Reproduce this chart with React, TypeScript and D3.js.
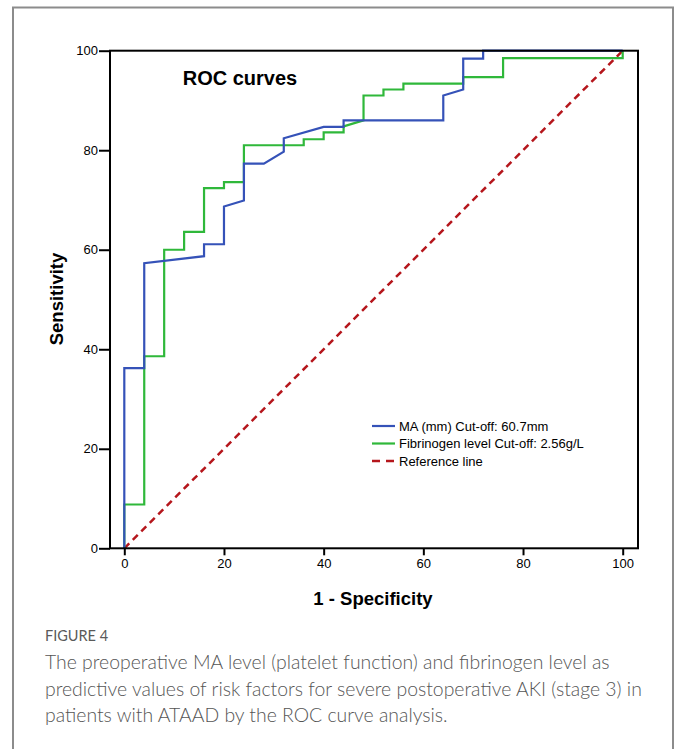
import React, { useEffect, useRef } from 'react';
import * as d3 from 'd3';

// ROC points (1 - specificity, sensitivity), both in %
const maFpr = [0, 0, 4, 4, 16, 16, 20, 20, 24, 24, 28, 32, 32, 40, 44, 44, 64, 64, 68, 68, 72, 72, 100];
const maTpr = [0, 36.2, 36.2, 57.3, 58.7, 61.1, 61.1, 68.7, 69.9, 77.3, 77.3, 79.7, 82.4, 84.7, 84.7, 86, 86, 91, 92.2, 98.4, 98.4, 100, 100];

const fibFpr = [0, 0, 4, 4, 8, 8, 12, 12, 16, 16, 20, 20, 24, 24, 36, 36, 40, 40, 44, 44, 48, 48, 52, 52, 56, 56, 68, 68, 76, 76, 100, 100];
const fibTpr = [0, 8.8, 8.8, 38.6, 38.6, 60, 60, 63.6, 63.6, 72.4, 72.4, 73.6, 73.6, 81, 81, 82.2, 82.2, 83.6, 83.6, 84.8, 86, 91, 91, 92.2, 92.2, 93.4, 93.4, 94.7, 94.7, 98.5, 98.5, 100];

const refFpr = [0, 100];
const refTpr = [0, 100];

const xTicks = [0, 20, 40, 60, 80, 100];
const yTicks = [0, 20, 40, 60, 80, 100];

const seriesNames = ['MA (mm) Cut-off: 60.7mm', 'Fibrinogen level Cut-off: 2.56g/L', 'Reference line'];

const captionTitle = 'FIGURE 4';
const captionLines = [
  'The preoperative MA level (platelet function) and fibrinogen level as',
  'predictive values of risk factors for severe postoperative AKI (stage 3) in',
  'patients with ATAAD by the ROC curve analysis.',
];

const BLUE = '#3552b8';
const GREEN = '#2fb83a';
const RED = '#b5161c';

export default function App() {
  const ref = useRef<SVGSVGElement>(null);

  useEffect(() => {
    if (!ref.current) return;
    const svg = d3.select(ref.current);
    svg.selectAll('*').remove();

    const W = 677;
    const H = 749;
    svg.attr('width', W).attr('height', H);

    // outer figure box
    svg.append('rect')
      .attr('x', 13).attr('y', 7.5)
      .attr('width', 660).attr('height', 800)
      .attr('fill', 'none')
      .attr('stroke', '#8c8c8c')
      .attr('stroke-width', 2);

    const frame = { left: 110, right: 638, top: 50.7, bottom: 548.3 };

    const x = d3.scaleLinear().domain([0, 100]).range([124.3, 622.7]);
    const y = d3.scaleLinear().domain([0, 100]).range([548.3, 50.7]);

    const font = 'Arial, "Liberation Sans", sans-serif';

    const line = d3.line<[number, number]>()
      .x(d => x(d[0]))
      .y(d => y(d[1]));

    const pts = (a: number[], b: number[]) => a.map((v, i) => [v, b[i]] as [number, number]);

    // reference diagonal
    svg.append('path')
      .datum(pts(refFpr, refTpr))
      .attr('fill', 'none')
      .attr('stroke', RED)
      .attr('stroke-width', 2.5)
      .attr('stroke-dasharray', '7,5')
      .attr('d', line);

    svg.append('path')
      .datum(pts(fibFpr, fibTpr))
      .attr('fill', 'none')
      .attr('stroke', GREEN)
      .attr('stroke-width', 2.2)
      .attr('d', line);

    svg.append('path')
      .datum(pts(maFpr, maTpr))
      .attr('fill', 'none')
      .attr('stroke', BLUE)
      .attr('stroke-width', 2.2)
      .attr('d', line);

    // plot frame
    svg.append('rect')
      .attr('x', frame.left).attr('y', frame.top)
      .attr('width', frame.right - frame.left)
      .attr('height', frame.bottom - frame.top)
      .attr('fill', 'none')
      .attr('stroke', '#000')
      .attr('stroke-width', 2);

    const yAxis = svg.append('g')
      .attr('transform', `translate(${frame.left},0)`)
      .call(d3.axisLeft(y).tickValues(yTicks).tickSize(11).tickPadding(1));
    yAxis.select('.domain').remove();
    yAxis.selectAll('line').attr('stroke', '#000').attr('stroke-width', 2);
    yAxis.selectAll('text')
      .style('font-family', font)
      .style('font-size', '13px')
      .attr('fill', '#000');

    const xAxis = svg.append('g')
      .attr('transform', `translate(0,${frame.bottom})`)
      .call(d3.axisBottom(x).tickValues(xTicks).tickSize(7).tickPadding(3));
    xAxis.select('.domain').remove();
    xAxis.selectAll('line').attr('stroke', '#000').attr('stroke-width', 2);
    xAxis.selectAll('text')
      .style('font-family', font)
      .style('font-size', '13px')
      .attr('fill', '#000');

    // title
    svg.append('text')
      .attr('x', 240).attr('y', 85)
      .attr('text-anchor', 'middle')
      .style('font-family', font)
      .style('font-size', '20px')
      .style('font-weight', 'bold')
      .text('ROC curves');

    // axis titles
    svg.append('text')
      .attr('transform', 'translate(63,299) rotate(-90)')
      .attr('text-anchor', 'middle')
      .style('font-family', font)
      .style('font-size', '18.5px')
      .style('font-weight', 'bold')
      .text('Sensitivity');

    svg.append('text')
      .attr('x', 373).attr('y', 605)
      .attr('text-anchor', 'middle')
      .style('font-family', font)
      .style('font-size', '18.5px')
      .style('font-weight', 'bold')
      .text('1 - Specificity');

    // legend
    const legendColors = [BLUE, GREEN, RED];
    const legend = svg.append('g').attr('transform', 'translate(372,426)');
    seriesNames.forEach((name, i) => {
      const row = legend.append('g').attr('transform', `translate(0,${i * 17.5})`);
      row.append('line')
        .attr('x1', 0).attr('x2', 23)
        .attr('y1', 0).attr('y2', 0)
        .attr('stroke', legendColors[i])
        .attr('stroke-width', i === 2 ? 2.5 : 2.2)
        .attr('stroke-dasharray', i === 2 ? '8,6' : null);
      row.append('text')
        .attr('x', 27).attr('y', 4.5)
        .style('font-family', font)
        .style('font-size', '13px')
        .attr('fill', '#000')
        .text(name);
    });

    // caption
    const capFont = 'Lato, "Open Sans", sans-serif';
    svg.append('text')
      .attr('x', 45).attr('y', 641)
      .style('font-family', capFont)
      .style('font-size', '14.5px')
      .attr('fill', '#5a5a5a')
      .text(captionTitle);

    captionLines.forEach((t, i) => {
      svg.append('text')
        .attr('x', 45).attr('y', 669 + i * 26.5)
        .style('font-family', capFont)
        .style('font-size', '19.4px')
        .style('font-weight', 300)
        .attr('fill', '#555')
        .text(t);
    });
  }, []);

  return (
    <div style={{ position: 'absolute', left: 0, top: 0, background: '#fff' }}>
      <svg
        ref={ref}
        style={{ display: 'block' }}
        role="img"
        aria-label="ROC curves for MA and fibrinogen level predicting severe postoperative AKI"
      ></svg>
    </div>
  );
}
